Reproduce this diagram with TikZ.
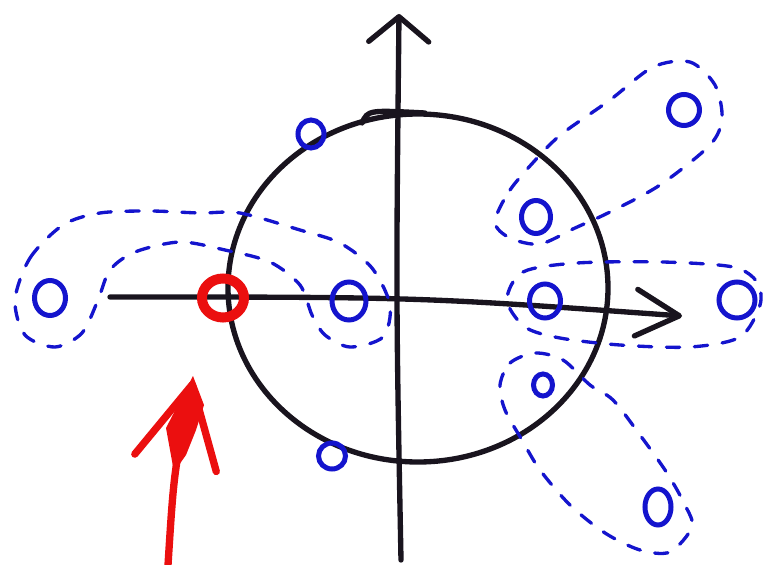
\documentclass[tikz,border=0pt]{standalone}
\usetikzlibrary{shapes.geometric,arrows.meta}
\definecolor{ink}{RGB}{25,20,30}
\definecolor{penblue}{RGB}{20,20,205}
\definecolor{penred}{RGB}{235,15,15}

\begin{document}
\begin{tikzpicture}[
    x=0.3mm, y=-0.3mm,
    pen/.style={draw=ink, line width=1.6mm, line cap=round, line join=round},
    axisx/.style={pen, -{Straight Barb[length=13mm, width=14mm, round]}},
    axisy/.style={pen, -{Straight Barb[length=7.5mm, width=18mm, round]}},
    pole/.style={ellipse, draw=penblue, line width=1.5mm, inner sep=0pt},
    group/.style={draw=penblue, line width=1mm, dash pattern=on 4mm off 4.4mm, line cap=round},
    hit/.style={ellipse, draw=penred, line width=3mm, inner sep=0pt, minimum width=12.6mm, minimum height=11.7mm},
    pointer/.style={draw=penred, line width=2.2mm, line cap=round, line join=round, -{Straight Barb[length=24mm, width=25mm, round]}}
]
\useasboundingbox (0,0) rectangle (767,565);

% unit circle and axes
\draw[pen] (418,288) ellipse [x radius=190, y radius=174];
\draw[pen] (362,123) .. controls (368,110) .. (425,113);
\draw[axisx] (110,297) .. controls (420,297) .. (682,316);
\draw[axisy] (401,560) .. controls (396,300) .. (399,14);

% roots
\node[pole, minimum width=7.8mm, minimum height=8.4mm] (r1) at (311,134) {};
\node[pole, minimum width=8.7mm, minimum height=9.9mm] (r2) at (536,217) {};
\node[pole, minimum width=9.3mm, minimum height=9.3mm] (r3) at (684,110) {};
\node[pole, minimum width=9.3mm, minimum height=10.5mm] (r4) at (50,298) {};
\node[pole, minimum width=10.2mm, minimum height=11.4mm] (r5) at (349,301) {};
\node[pole, minimum width=9.3mm, minimum height=10.2mm] (r6) at (545,301) {};
\node[pole, minimum width=10.8mm, minimum height=10.8mm] (r7) at (737,300) {};
\node[pole, minimum width=5.7mm, minimum height=6.6mm] (r8) at (543,385) {};
\node[pole, minimum width=8.1mm, minimum height=7.8mm] (r9) at (332,456) {};
\node[pole, minimum width=7.8mm, minimum height=10.8mm] (r10) at (658,507) {};

% red mark on the circle
\node[hit] (crit) at (223,298) {};

% dashed groups of roots
\draw[group] plot[smooth cycle] coordinates {(495,222) (510,190) (540,155) (563,133) (610,100) (653,67) (690,62) (715,85) (722,118) (710,145) (660,185) (610,212) (575,228) (540,244) (510,238)};
\draw[group] plot[smooth cycle] coordinates {(15,300) (30,258) (63,225) (100,213) (150,211) (200,213) (240,213) (300,230) (340,243) (372,268) (390,305) (383,337) (350,347) (325,335) (312,315) (300,285) (270,262) (225,250) (180,242) (135,252) (110,270) (98,300) (82,333) (55,347) (25,335)};
\draw[group] plot[smooth cycle] coordinates {(507,300) (523,272) (577,263) (663,262) (733,267) (757,282) (760,305) (740,337) (690,347) (620,345) (560,338) (525,327)};
\draw[group] plot[smooth cycle] coordinates {(500,385) (510,363) (535,353) (563,360) (590,385) (613,400) (640,435) (667,473) (685,505) (692,527) (670,552) (640,550) (605,533) (570,505) (540,470) (522,440) (505,410)};

% pointer
\draw[pointer] (168,565) .. controls (174,470) .. (193,381);
\fill[penred] (193,376) -- (166,428) -- (174,472) -- (186,455) -- (196,430) -- (204,405) -- cycle;

\end{tikzpicture}
\end{document}
